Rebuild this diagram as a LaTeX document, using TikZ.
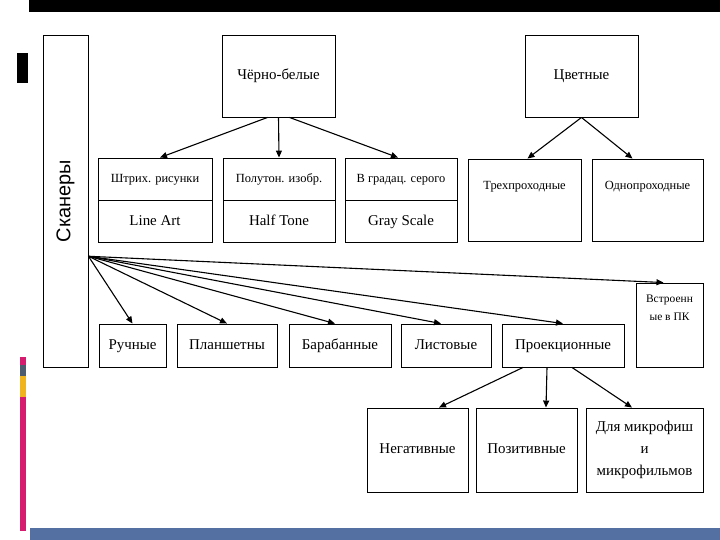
\documentclass[tikz,border=0pt]{standalone}
\usepackage{fontspec}
\setmainfont{Liberation Serif}
\newfontfamily\labelsans{Liberation Sans}
\usepackage{tikz}
\usetikzlibrary{arrows.meta,positioning,calc}

\definecolor{barblue}{RGB}{84,112,162}
\definecolor{stripepink}{RGB}{214,28,110}
\definecolor{stripeslate}{RGB}{78,92,112}
\definecolor{stripegold}{RGB}{240,180,30}
\newcommand{\fsz}[2]{\fontsize{#1}{#2}\selectfont}

\begin{document}
\begin{tikzpicture}[
  x=1bp, y=-1bp,
  font=\fsz{15}{20},
  box/.style={draw, line width=0.9bp, align=center, inner sep=1bp},
  line/.style={text height=10.5bp, text depth=3.5bp},
  cell/.style={box, line, minimum height=42bp},
  tall/.style={box, inner ysep=0pt, text height=31bp, text depth=51bp, font=\fsz{12.5}{14}},
  kind/.style={box, line, minimum height=43bp},
  sub/.style={box, minimum height=84bp},
  arrow/.style={-{Triangle[length=7bp, width=6bp]}, line width=1.1bp}
]
\fill[white] (0,0) rectangle (720,540);
\useasboundingbox (0,0) rectangle (720,540);
% slide frame
\fill[black] (29,0) rectangle (720,12);
\fill[black] (17,53) rectangle (28,83);
\fill[stripepink] (20,357) rectangle (26,365);
\fill[stripeslate] (20,365) rectangle (26,376);
\fill[stripegold] (20,376) rectangle (26,397);
\fill[stripepink] (20,397) rectangle (26,531);
\fill[barblue] (30,528) rectangle (720,540);

\node[box, minimum width=45bp, minimum height=332bp] (scan) at (65.5,201) {\labelsans\fsz{20}{22}\rotatebox{90}{Сканеры}};
\node[box, line, minimum width=113bp, minimum height=82bp] (bw) at (278.5,76) {Чёрно-белые};
\node[box, line, minimum width=113bp, minimum height=82bp] (color) at (581.5,76) {Цветные};

\node[cell, minimum width=114bp, font=\fsz{12.5}{14}] (stroke) at (155,179) {Штрих. рисунки};
\node[cell, minimum width=114bp, below=0pt of stroke] (lineart) {Line Art};
\node[cell, minimum width=112bp, font=\fsz{12.5}{14}] (halftone) at (279,179) {Полутон. изобр.};
\node[cell, minimum width=112bp, below=0pt of halftone] (halftxt) {Half Tone};
\node[cell, minimum width=112bp, font=\fsz{12.5}{14}] (gray) at (401,179) {В градац. серого};
\node[cell, minimum width=112bp, below=0pt of gray] (graytxt) {Gray Scale};

\node[tall, minimum width=113bp] (three) at (524.5,200) {Трехпроходные};
\node[tall, minimum width=111bp] (single) at (647.5,200) {Однопроходные};

\node[kind, minimum width=67bp] (man) at (132.5,345.5) {Ручные};
\node[kind, minimum width=100bp] (flat) at (227,345.5) {Планшетны};
\node[kind, minimum width=102bp] (drum) at (340,345.5) {Барабанные};
\node[kind, minimum width=90bp] (sheet) at (446,345.5) {Листовые};
\node[kind, minimum width=122bp] (proj) at (563,345.5) {Проекционные};
\node[box, minimum width=67bp, minimum height=84bp, inner sep=0pt] (builtin) at (669.5,325)
  {\parbox[c][84bp][t]{67bp}{\centering\fsz{11.5}{18}\vspace*{12bp}Встроенн\\ые в ПК}};

\node[sub, line, minimum width=101bp] (neg) at (417.5,450) {Негативные};
\node[sub, line, minimum width=101bp] (pos) at (526.5,450) {Позитивные};
\node[sub, minimum width=117bp, font=\fsz{15}{22}] (micro) at (644.5,450) {Для микрофиш\\и\\микрофильмов};

\coordinate (fan) at ($(scan.north east)!0.666!(scan.south east)$);

\draw[arrow] ([xshift=-11bp]bw.south) -- ([xshift=5bp]stroke.north);
\draw[arrow] (bw.south) -- (halftone.north);
\draw[arrow] ([xshift=11bp]bw.south) -- ([xshift=-3bp]gray.north);
\draw[arrow] (color.south) -- ([xshift=3bp]three.north);
\draw[arrow] (color.south) -- ([xshift=-15bp]single.north);

\draw[arrow] (fan) -- (man.north);
\draw[arrow] (fan) -- (flat.north);
\draw[arrow] (fan) -- ([xshift=-5bp]drum.north);
\draw[arrow] (fan) -- ([xshift=-5bp]sheet.north);
\draw[arrow] (fan) -- (proj.north);
\draw[arrow] (fan) -- ([xshift=-6bp]builtin.north);

\draw[arrow] ([xshift=-40bp]proj.south) -- ([xshift=21.5bp]neg.north);
\draw[arrow] ([xshift=-16bp]proj.south) -- ([xshift=19.5bp]pos.north);
\draw[arrow] ([xshift=9bp]proj.south) -- ([xshift=-12.5bp]micro.north);
\end{tikzpicture}
\end{document}
